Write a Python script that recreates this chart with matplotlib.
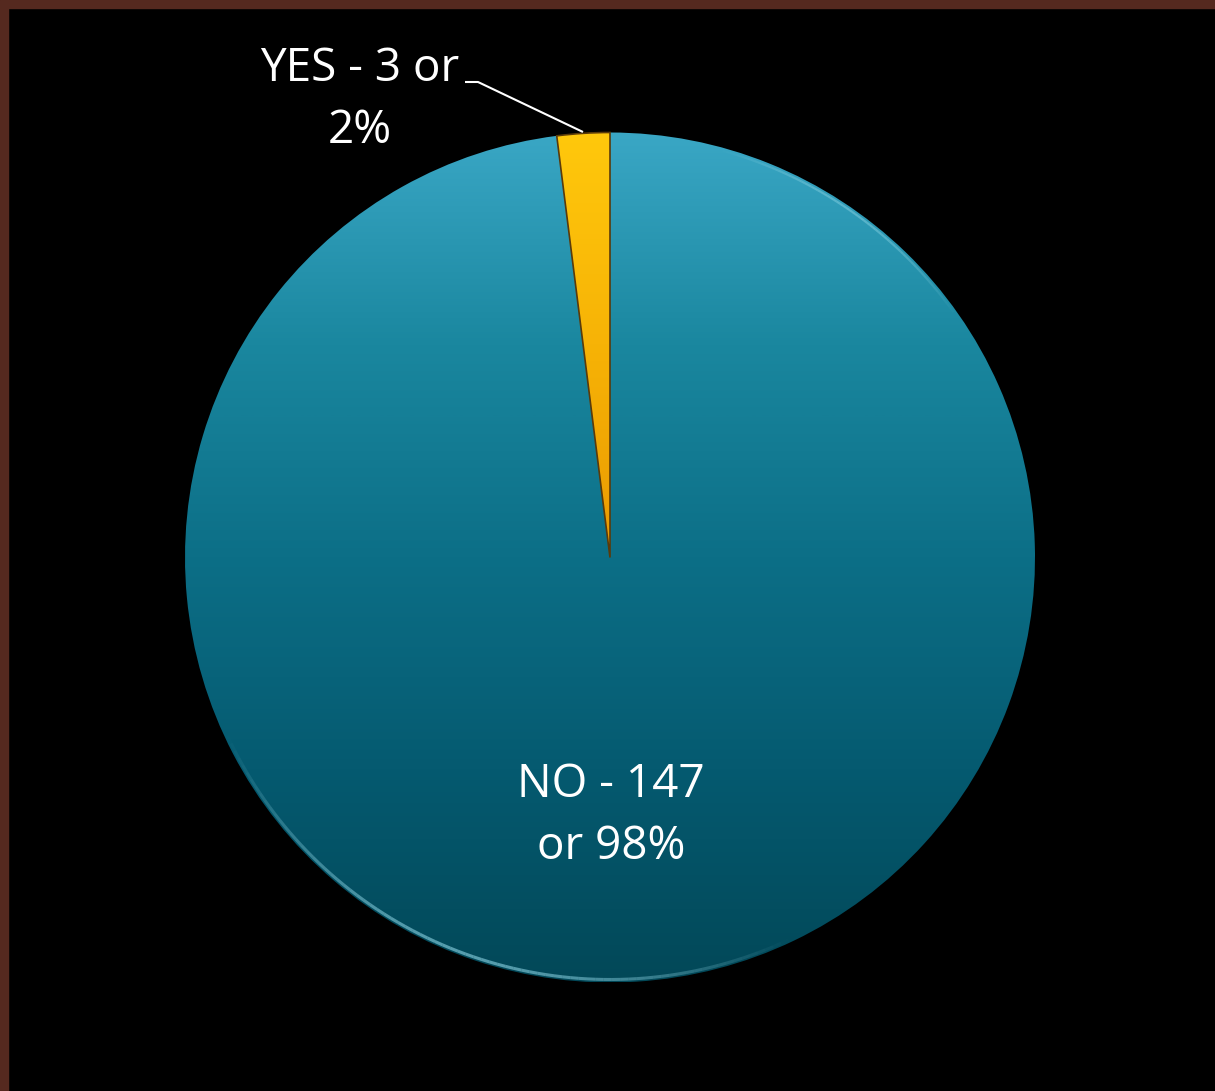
import numpy as np
import matplotlib
matplotlib.use("Agg")
import matplotlib.pyplot as plt
from matplotlib.colors import LinearSegmentedColormap
from matplotlib.patches import Rectangle
from matplotlib.collections import LineCollection

# Survey answers
labels = ["YES", "NO"]
counts = [3, 147]
label_texts = ["YES - 3 or\n2%", "NO - 147\nor 98%"]

W, H = 1215, 1091
fig = plt.figure(figsize=(W / 100, H / 100), dpi=100, facecolor="black")
ax = fig.add_axes([0, 0, 1, 1])
ax.set_facecolor("black")

cx, cy, r = 610, H - 557.5, 425

wedges, _ = ax.pie(counts, startangle=90, counterclock=True,
                   center=(cx, cy), radius=r, frame=True,
                   wedgeprops=dict(linewidth=0))
ax.set_xlim(0, W)
ax.set_ylim(0, H)
ax.set_aspect("auto")
ax.axis("off")

blue_cmap = LinearSegmentedColormap.from_list(
    "blue", ["#3aa7c5", "#1a879f", "#0c6f87", "#055a70", "#024858"])
gold_cmap = LinearSegmentedColormap.from_list(
    "gold", ["#ffc80c", "#f7b306", "#ea9a02"])

grad = np.linspace(0, 1, 512).reshape(-1, 1)
extent = (cx - r, cx + r, cy - r, cy + r)

yes_w, no_w = wedges[0], wedges[1]
for w in wedges:
    w.set_facecolor("none")

im_no = ax.imshow(grad, cmap=blue_cmap, aspect="auto", origin="upper",
                  extent=extent, zorder=1, interpolation="bilinear")
im_no.set_clip_path(no_w)

# YES slice: gradient spans only its own height
yes_top, yes_bot = cy + r, cy
im_yes = ax.imshow(grad, cmap=gold_cmap, aspect="auto", origin="upper",
                   extent=(cx - 60, cx + 10, yes_bot, yes_top), zorder=2,
                   interpolation="bilinear")
im_yes.set_clip_path(yes_w)
yes_w.set_edgecolor("#5a3a0a")
yes_w.set_linewidth(1.2)
yes_w.set_zorder(3)

# faint rim highlights that fade out toward both ends
def rim(t1, t2, lw, alpha, n=80):
    t = np.radians(np.linspace(t1, t2, n + 1))
    rr = r - 3
    pts = np.column_stack([cx + rr * np.cos(t), cy + rr * np.sin(t)])
    segs = np.stack([pts[:-1], pts[1:]], axis=1)
    a = alpha * np.sin(np.pi * (np.arange(n) + 0.5) / n)
    cols = [(0.56, 0.84, 0.90, ai) for ai in a]
    ax.add_collection(LineCollection(segs, colors=cols, linewidths=lw,
                                     capstyle="butt", zorder=4))

rim(205, 295, 2.2, 0.6)
rim(35, 75, 1.6, 0.45)

font = "Open Sans"
ax.text(611, H - 816, label_texts[1], ha="center", va="center",
        color="white", fontsize=33, family=font, linespacing=1.45, zorder=5)
ax.text(360, H - 100, label_texts[0], ha="center", va="center",
        color="white", fontsize=33, family=font, linespacing=1.45, zorder=5)

# leader line for the small slice
ax.plot([465, 478, 583], [H - 82, H - 82, H - 132], color="white", lw=1.5,
        zorder=5, solid_capstyle="butt")

# brown frame along the top and left edges
ax.add_patch(Rectangle((0, H - 8), W, 8, color="#55291f", zorder=6))
ax.add_patch(Rectangle((0, 0), 8, H, color="#55291f", zorder=6))

fig.savefig("out.png", dpi=100, facecolor="black")
